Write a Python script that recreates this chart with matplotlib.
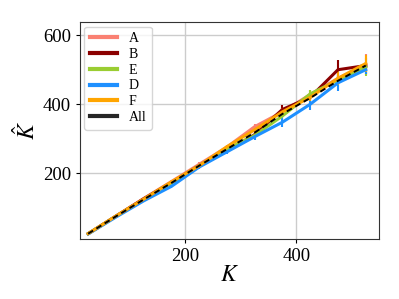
import numpy as np
import matplotlib
matplotlib.use("Agg")
import matplotlib.pyplot as plt
from matplotlib.lines import Line2D

plt.rcParams["font.family"] = ["Liberation Serif", "DejaVu Serif"]
plt.rcParams["mathtext.fontset"] = "stix"

# true K values
K = [25, 75, 125, 175, 225, 275, 325, 375, 425, 475, 525]

# estimated K-hat per group (mean)
A = [25, 75, 127, 176, 226, 276, 335, 378, 428, 475, 515]
B = [25, 76, 126, 173, 222, 265, 312, 385, 420, 500, 512]
E = [25, 75, 124, 172, 222, 270, 310, 366, 430, 470, 508]
D = [24, 73, 120, 162, 218, 262, 306, 348, 400, 462, 500]
F = [25, 76, 125, 175, 222, 277, 326, 378, 420, 475, 518]
All = [25, 75, 124, 172, 222, 270, 318, 372, 418, 468, 512]

# error bar half-widths
A_err = [1, 2, 3, 4, 6, 6, 8, 10, 14, 12, 30]
B_err = [1, 2, 3, 3, 4, 6, 6, 12, 10, 28, 10]
E_err = [1, 2, 2, 3, 4, 5, 6, 8, 10, 12, 25]
D_err = [1, 2, 3, 4, 5, 6, 10, 14, 18, 24, 12]
F_err = [1, 2, 3, 4, 6, 6, 8, 10, 12, 20, 25]

labels = ["A", "B", "E", "D", "F"]
colors = ["salmon", "darkred", "yellowgreen", "dodgerblue", "orange"]
series = [A, B, E, D, F]
errors = [A_err, B_err, E_err, D_err, F_err]

fig, ax = plt.subplots(figsize=(3.99, 2.99), dpi=100)

for y, err, c in zip(series, errors, colors):
    ax.errorbar(K, y, yerr=err, color=c, linewidth=2.2, elinewidth=1.5, capsize=0)

ax.plot(K, All, color="black", linestyle=(0, (3, 2)), linewidth=1.4, zorder=5)

handles = [Line2D([], [], color=c, linewidth=3) for c in colors]
handles.append(Line2D([], [], color="black", linewidth=3, alpha=0.85))
ax.legend(handles, labels + ["All"], loc="upper left", fontsize=10,
          handlelength=2.0, labelspacing=0.2, borderaxespad=0.3,
          framealpha=0.8)

ax.set_xlim(10, 549)
ax.set_ylim(9, 637)
ax.set_xticks([200, 400])
ax.set_yticks([200, 400, 600])
ax.tick_params(labelsize=13.5, length=3)
ax.grid(True, color="#cccccc", linewidth=1)
ax.set_axisbelow(True)
for s in ax.spines.values():
    s.set_color("#333333")

ax.set_xlabel("$K$", fontsize=17, labelpad=0)
ax.set_ylabel(r"$\hat{K}$", fontsize=17, labelpad=2)

fig.subplots_adjust(left=0.2, right=0.95, bottom=0.2, top=0.925)
fig.savefig("out.png", dpi=100)
